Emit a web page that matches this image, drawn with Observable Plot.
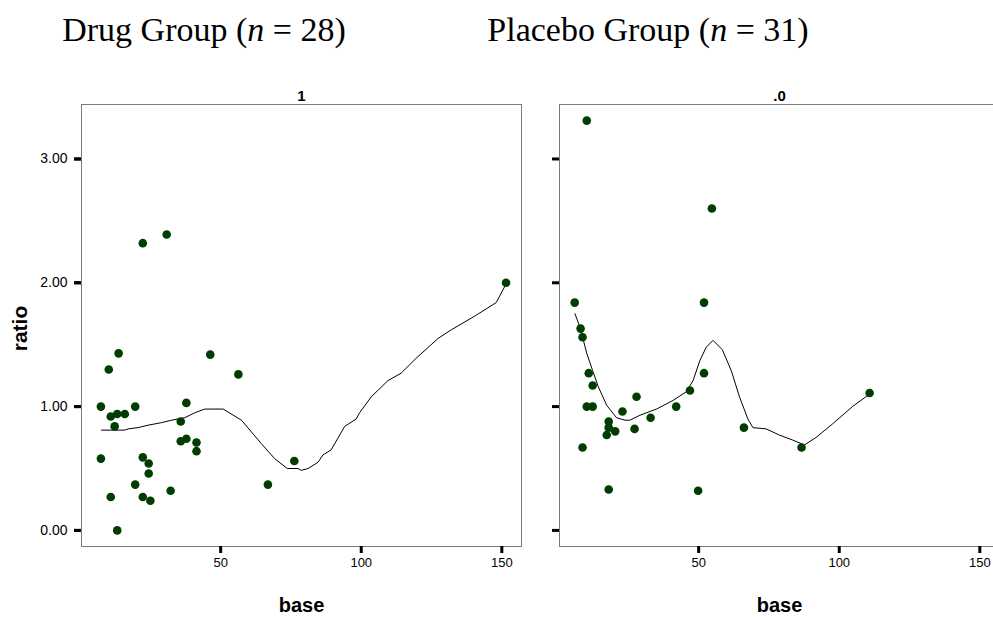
<!DOCTYPE html>
<html>
<head>
<meta charset="utf-8">
<script src="https://cdn.jsdelivr.net/npm/d3@7"></script>
<script src="https://cdn.jsdelivr.net/npm/@observablehq/plot@0.6"></script>
<style>
  html, body { margin: 0; padding: 0; background: #fff; overflow: hidden; }
  #wrap { position: relative; width: 993px; height: 617px; overflow: hidden; }
  #titles { position: relative; height: 66px; font-family: "Liberation Serif", "Times New Roman", serif; font-size: 34px; line-height: 34px; color: #000; }
  #titles span { position: absolute; top: 13px; transform: translateX(-50%); white-space: nowrap; }
  #chart g[aria-label="y-axis tick label"] { font-size: 14px !important; }
  #chart g[aria-label="x-axis tick label"] { font-size: 13px !important; }
  #chart g[aria-label="facet-label"] { font-size: 15px !important; font-weight: bold; }
</style>
</head>
<body>
<div id="wrap">
  <div id="titles">
    <span style="left:204px">Drug Group (<i>n</i> = 28)</span>
    <span style="left:648px">Placebo Group (<i>n</i> = 31)</span>
  </div>
  <div id="chart"></div>
</div>
<script>
// Facet labels
const groups = ["1", ".0"];

// Drug group (facet "1") observations
const drugBase  = [13.7, 10.2, 46.3, 56.3, 7.4, 19.6, 37.8, 10.9, 13.2, 15.9, 12.3, 35.8, 35.8, 37.8, 41.4, 41.4, 7.4, 22.3, 24.4, 24.4, 19.6, 66.8, 10.9, 22.3, 25.0, 32.2, 13.2, 76.2, 22.3, 30.8, 151.5];
const drugRatio = [1.43, 1.30, 1.42, 1.26, 1.00, 1.00, 1.03, 0.92, 0.94, 0.94, 0.84, 0.88, 0.72, 0.74, 0.71, 0.64, 0.58, 0.59, 0.54, 0.46, 0.37, 0.37, 0.27, 0.27, 0.24, 0.32, 0.00, 0.56, 2.32, 2.39, 2.00];

// Placebo group (facet ".0") observations
const placeboBase  = [10.2, 54.7, 5.9, 51.9, 8.0, 8.7, 10.9, 51.9, 12.3, 46.9, 27.9, 10.2, 12.3, 42.0, 22.9, 32.9, 18.0, 18.0, 20.3, 17.3, 27.2, 8.7, 66.1, 18.0, 49.8, 86.6, 110.8];
const placeboRatio = [3.31, 2.60, 1.84, 1.84, 1.63, 1.56, 1.27, 1.27, 1.17, 1.13, 1.08, 1.00, 1.00, 1.00, 0.96, 0.91, 0.88, 0.83, 0.80, 0.77, 0.82, 0.67, 0.83, 0.33, 0.32, 0.67, 1.11];

// Smoothed curves
const drugSmoothBase  = [7.6, 15.9, 17.1, 20.6, 24.2, 28.9, 32.5, 37.2, 40.8, 44.3, 50.9, 57.4, 64.5, 69.2, 73.7, 77.5, 78.7, 81.1, 84.6, 86.4, 89.3, 94.1, 98.2, 99.4, 103.6, 109.5, 114.2, 119.5, 127.3, 132.0, 140.3, 148.0, 151.5];
const drugSmoothRatio = [0.81, 0.81, 0.82, 0.83, 0.85, 0.87, 0.89, 0.91, 0.95, 0.98, 0.98, 0.89, 0.70, 0.58, 0.50, 0.50, 0.485, 0.50, 0.55, 0.61, 0.65, 0.84, 0.90, 0.95, 1.08, 1.21, 1.27, 1.39, 1.55, 1.62, 1.73, 1.84, 1.99];
const placeboSmoothBase  = [6.0, 7.8, 10.2, 12.3, 14.3, 17.3, 20.8, 23.8, 25.5, 29.1, 35.0, 40.9, 45.6, 48.0, 50.4, 52.7, 55.1, 58.4, 61.6, 64.5, 67.5, 69.3, 74.0, 78.7, 83.4, 87.6, 91.7, 97.6, 104.7, 110.7];
const placeboSmoothRatio = [1.75, 1.64, 1.43, 1.29, 1.16, 1.01, 0.91, 0.89, 0.89, 0.93, 0.98, 1.05, 1.12, 1.21, 1.37, 1.48, 1.535, 1.46, 1.29, 1.08, 0.90, 0.83, 0.82, 0.77, 0.73, 0.69, 0.75, 0.86, 1.00, 1.10];

// Axis ticks
const xTicks = [50, 100, 150];
const yTicks = [0, 1, 2, 3];

const points = [
  ...drugBase.map((b, i) => ({group: groups[0], base: b, ratio: drugRatio[i]})),
  ...placeboBase.map((b, i) => ({group: groups[1], base: b, ratio: placeboRatio[i]}))
];
const smooth = [
  ...drugSmoothBase.map((b, i) => ({group: groups[0], base: b, ratio: drugSmoothRatio[i]})),
  ...placeboSmoothBase.map((b, i) => ({group: groups[1], base: b, ratio: placeboSmoothRatio[i]}))
];

const chart = Plot.plot({
  width: 1000,
  height: 551,
  marginLeft: 80,
  marginRight: 0,
  marginTop: 38,
  marginBottom: 71,
  style: {maxWidth: "none", fontFamily: "'Liberation Sans', Arial, sans-serif", background: "#fff", color: "#000"},
  fx: {domain: groups, paddingInner: 0.0793, paddingOuter: 0, label: null, axis: null},
  x: {domain: [0.5, 157], label: null},
  y: {domain: [-0.13, 3.44], label: null},
  marks: [
    Plot.frame({stroke: "#7a7a7a", strokeWidth: 1}),
    Plot.text(groups, {fx: d => d, text: d => d, frameAnchor: "top", dy: -8, textAnchor: "middle", lineAnchor: "middle", fontSize: 15, fontWeight: "bold", ariaLabel: "facet-label"}),
    Plot.axisX({ticks: xTicks, tickSize: 7, strokeWidth: 3, tickPadding: 4, fontSize: 13, label: null}),
    Plot.axisY({ticks: yTicks, tickSize: 7, strokeWidth: 3, tickPadding: 7, fontSize: 14, tickFormat: d3.format(".2f"), label: null}),
    Plot.axisY({ticks: yTicks, tickSize: 7, strokeWidth: 3, fill: "none", label: null, facetAnchor: null}),
    Plot.text([{g: groups[0], t: "ratio"}], {fx: "g", text: "t", frameAnchor: "left", dx: -61, dy: 3, rotate: -90, textAnchor: "middle", lineAnchor: "middle", fontWeight: "bold", fontSize: 21}),
    Plot.text(["base"], {text: d => d, frameAnchor: "bottom", dy: 59, textAnchor: "middle", lineAnchor: "middle", fontWeight: "bold", fontSize: 20}),
    Plot.line(smooth, {x: "base", y: "ratio", fx: "group", z: "group", stroke: "#000", strokeWidth: 1}),
    Plot.dot(points, {x: "base", y: "ratio", fx: "group", r: 4.3, fill: "#013d01", stroke: "none"})
  ]
});
document.getElementById("chart").appendChild(chart);
</script>
</body>
</html>
